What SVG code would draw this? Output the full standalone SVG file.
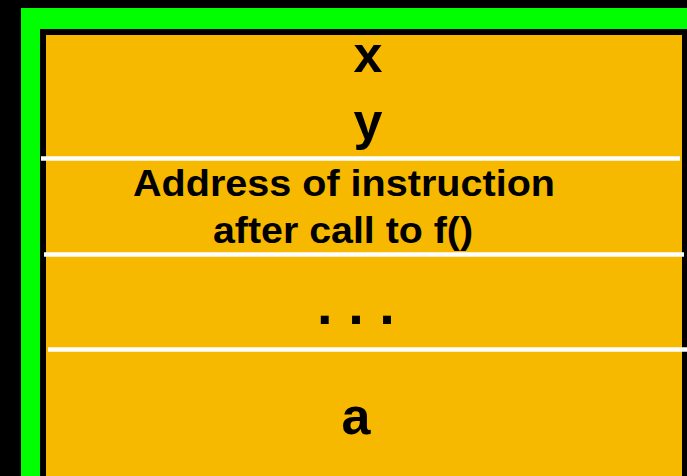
<svg xmlns="http://www.w3.org/2000/svg" width="687" height="476" viewBox="0 0 687 476">
<style>
.t{font-family:"Liberation Sans",Arial,sans-serif;font-weight:bold;fill:#000;text-anchor:middle}
.sep{stroke:#ffffff;stroke-width:4.5}
</style>
<rect x="0" y="0" width="687" height="476" fill="#000"/>
<rect x="21" y="8" width="666" height="468" fill="#00ff00"/>
<rect x="40" y="29" width="647" height="447" fill="#000"/>
<rect x="46" y="35" width="636" height="441" fill="#f7b900"/>
<g id="connectors">
<line class="sep" x1="41" y1="158.5" x2="680" y2="158.5"/>
<line class="sep" x1="44" y1="254.5" x2="684" y2="254.5"/>
<line class="sep" x1="48" y1="349.5" x2="687" y2="349.5"/>
</g>
<g id="node-x"><text class="t" x="368" y="72" font-size="52">x</text></g>
<g id="node-y"><text class="t" x="368" y="139" font-size="52">y</text></g>
<g id="node-ret">
<text class="t" x="344" y="196" font-size="36" textLength="422" lengthAdjust="spacingAndGlyphs">Address of instruction</text>
<text class="t" x="343" y="243" font-size="36" textLength="260" lengthAdjust="spacingAndGlyphs">after call to f()</text>
</g>
<g id="node-dots"><text class="t" x="356" y="324" font-size="56">. . .</text></g>
<g id="node-a"><text class="t" x="356" y="434" font-size="52">a</text></g>
</svg>
